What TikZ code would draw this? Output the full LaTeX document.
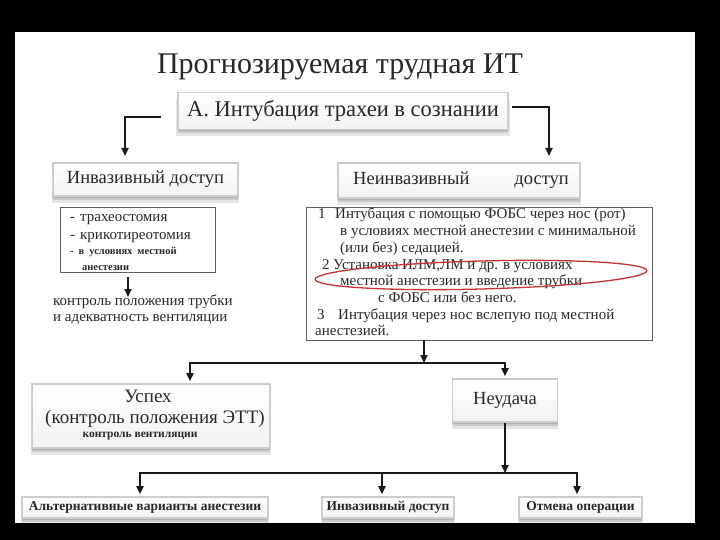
\documentclass[tikz,border=0pt]{standalone}
\usepackage{fontspec}
\setmainfont{Liberation Serif}
\usetikzlibrary{arrows.meta,shadows}
\definecolor{txt}{RGB}{40,40,40}
\definecolor{frame}{RGB}{205,205,205}
\definecolor{ell}{RGB}{200,50,55}
\tikzset{
 shbox/.style={draw=frame, line width=1.6pt, top color=white, bottom color=gray!10,
   drop shadow={shadow xshift=0pt, shadow yshift=-2pt, fill=black, opacity=0.13},
   drop shadow={shadow xshift=0pt, shadow yshift=-4pt, fill=black, opacity=0.12},
   drop shadow={shadow xshift=0pt, shadow yshift=-6.5pt, shadow scale=1.01, fill=black, opacity=0.10},
   inner sep=0pt},
 lbox/.style={draw=gray!75!black, line width=0.9pt, fill=white, inner sep=0pt},
 tx/.style={text=txt, inner sep=0pt},
 arr/.style={-{Triangle[length=8pt,width=7pt]}, line width=1.7pt, draw=black!90},
 ln/.style={line width=1.7pt, draw=black!90, line cap=rect},
 fs/.style={font=\fontsize{#1}{#1}\selectfont},
}
\begin{document}
\begin{tikzpicture}[x=1pt,y=-1pt]
\useasboundingbox (0,0) rectangle (720,540);
\fill[black] (0,0) rectangle (720,540);
\fill[white] (15,32) rectangle (695,523);

% title
\node[tx, fs=30] (title) at (340,67) {Прогнозируемая трудная ИТ};

% box A
\node[shbox, minimum width=330pt, minimum height=37pt] (A) at (343,111) {};
\node[tx, fs=22.5] (Atxt) at (A.center) {А. Интубация трахеи в сознании};

% second level
\node[shbox, minimum width=185pt, minimum height=33pt] (inv) at (145.5,179.5) {};
\node[tx, fs=18.5] (invtxt) at (inv.center) {Инвазивный доступ};
\node[shbox, minimum width=242pt, minimum height=35pt] (ninv) at (459,180.5) {};
\node[tx, fs=18.5] (ninvtxt) at (461,180.5) {Неинвазивный\hspace{45pt}доступ};

\coordinate (la) at (161,117);
\coordinate (lb) at (125,163);
\draw[arr, shorten >=7pt] (la) -| (lb);
\coordinate (ra) at (512,107);
\coordinate (rb) at (549,163);
\draw[arr, shorten >=7pt] (ra) -| (rb);

% left list
\node[lbox, minimum width=155pt, minimum height=65pt] (ll) at (137.5,239.5) {};
\node[tx, anchor=north west, text width=145pt, align=left, font=\fontsize{15}{16}\selectfont] (lltxt) at (70,214)
 {- трахеостомия\\[2pt]- крикотиреотомия\\[2pt]\fontsize{10.5}{13}\selectfont\bfseries - в условиях местной\\\hspace*{12pt}анестезии};

\coordinate (ca) at (128,277);
\draw[arr] (ca) -- ++(0,20);
\node[tx, anchor=north west, align=left, font=\fontsize{15}{16}\selectfont] (ctrl) at (53,295)
 {контроль положения трубки\\и адекватность вентиляции};

% right list
\node[lbox, minimum width=346pt, minimum height=133pt] (rbox) at (479,273.5) {};
\node[tx, anchor=north west, align=left, font=\fontsize{15}{16.7}\selectfont] (rtxt) at (315,208)
 {\hspace*{3pt}\makebox[17pt][l]{1}Интубация с помощью ФОБС через нос (рот)\\
  \hspace*{25pt}в условиях местной анестезии с минимальной\\
  \hspace*{25pt}(или без) седацией.\\
  \hspace*{7pt}\makebox[11pt][l]{2}Установка ИЛМ,ЛМ и др. в условиях\\
  \hspace*{25pt}местной анестезии и введение трубки\\
  \hspace*{63pt}с ФОБС или без него.\\
  \hspace*{2pt}\makebox[21pt][l]{3}Интубация через нос вслепую под местной\\
  анестезией.};
\draw[ell, line width=1.3pt, rotate around={1.5:(481,275)}] (481,275) ellipse (166 and 14);

% split
\coordinate (s0) at (424,363);
\coordinate (s1) at (190,363);
\coordinate (s2) at (505,363);
\draw[arr] (rbox.south -| s0) -- (s0);
\draw[ln] (s1) -- (s2);

\node[shbox, minimum width=238pt, minimum height=64pt] (usp) at (151,416) {};
\node[tx, fs=19] (usp1) at (148,396.5) {Успех};
\node[tx, fs=19] (usp2) at (155,419) {(контроль положения ЭТТ)};
\node[tx, font=\fontsize{11.5}{11.5}\selectfont\bfseries] (usp3) at (140,436.5) {контроль вентиляции};

\node[shbox, minimum width=105pt, minimum height=43pt] (neud) at (505,400.5) {};
\node[tx, fs=18.5] (neudtxt) at (neud.center) {Неудача};

\draw[arr, shorten >=2pt] (s1) -- (s1 |- usp.north);
\draw[arr, shorten >=2pt] (s2) -- (neud.north);

% bottom
\coordinate (b1) at (140,473);
\coordinate (b2) at (382,473);
\coordinate (b3) at (577,473);
\draw[arr] (neud.south) -- (neud.south |- b1);
\draw[ln] (b1) -- (b3);

\node[shbox, minimum width=246pt, minimum height=21pt] (alt) at (145,507.5) {};
\node[tx, font=\fontsize{13.5}{13.5}\selectfont\bfseries] (alttxt) at (alt.center) {Альтернативные варианты анестезии};
\node[shbox, minimum width=132pt, minimum height=21pt] (inv2) at (388,507.5) {};
\node[tx, font=\fontsize{13.5}{13.5}\selectfont\bfseries] (inv2txt) at (inv2.center) {Инвазивный доступ};
\node[shbox, minimum width=123pt, minimum height=21pt] (otm) at (580.5,507.5) {};
\node[tx, font=\fontsize{13.5}{13.5}\selectfont\bfseries] (otmtxt) at (otm.center) {Отмена операции};

\draw[arr, shorten >=2pt] (b1) -- (b1 |- alt.north);
\draw[arr, shorten >=2pt] (b2) -- (b2 |- inv2.north);
\draw[arr, shorten >=2pt] (b3) -- (b3 |- otm.north);

% re-blacken bottom band over shadows
\fill[black] (0,523) rectangle (720,540);
\end{tikzpicture}
\end{document}
